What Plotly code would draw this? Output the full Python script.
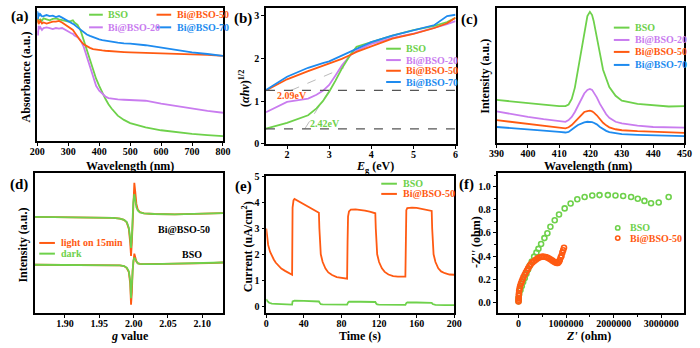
import plotly.graph_objects as go

# ---------------- data ----------------
# (a) UV-vis absorbance (arbitrary units)
a_wl = [200, 202, 204, 207, 210, 215, 220, 230, 240, 250, 260, 270, 280, 290, 300, 310, 315, 320, 330, 340,
        350, 360, 370, 380, 390, 400, 410, 420, 430, 440, 460, 480, 500, 550, 600, 650, 700, 750, 800]
a_bso = [380, 365, 372, 375, 375, 370, 378, 375, 372, 376, 378, 375, 373, 370, 368, 370, 372, 365, 358, 340,
         310, 280, 250, 220, 192, 170, 148, 130, 113, 100, 78, 65, 55, 42, 33, 27, 22, 18, 15]
a_b20 = [340, 325, 355, 345, 350, 342, 348, 350, 348, 345, 348, 346, 348, 342, 338, 332, 330, 325, 320, 310,
         290, 260, 225, 195, 170, 155, 145, 137, 132, 130, 128, 127, 126, 124, 115, 107, 100, 93, 87]
a_b50 = [365, 375, 360, 368, 370, 362, 365, 362, 365, 368, 368, 370, 365, 358, 352, 345, 342, 335, 320, 308,
         298, 292, 287, 283, 281, 280, 279, 278, 277, 276, 275, 274, 273, 272, 270, 269, 267, 265, 262]
a_b70 = [400, 375, 395, 385, 390, 384, 385, 388, 385, 386, 382, 385, 380, 375, 370, 365, 363, 358, 350, 342,
         335, 328, 324, 320, 316, 313, 311, 309, 307, 305, 303, 301, 300, 295, 287, 280, 273, 268, 262]

# (b) Tauc plot
b_e = [1.5, 2.0, 2.5, 2.7, 2.85, 3.0, 3.15, 3.3, 3.5, 3.65, 4.0, 4.5, 5.0, 5.5, 5.8, 6.0]
b_bso = [0.355, 0.49, 0.67, 0.83, 1.0, 1.22, 1.48, 1.76, 2.08, 2.27, 2.38, 2.53, 2.66, 2.76, 2.85, 2.95]
b_b20 = [0.74, 0.98, 1.06, 1.15, 1.24, 1.38, 1.6, 1.83, 2.07, 2.18, 2.34, 2.48, 2.58, 2.71, 2.80, 2.87]
b_b50 = [1.25, 1.51, 1.70, 1.77, 1.82, 1.87, 1.93, 1.99, 2.08, 2.15, 2.28, 2.46, 2.57, 2.71, 2.82, 2.95]
b_b70 = [1.26, 1.57, 1.78, 1.85, 1.89, 1.93, 2.0, 2.06, 2.15, 2.22, 2.38, 2.53, 2.66, 2.78, 2.99, 3.02]
b_h_levels = [1.25, 0.35]
b_tan1_x = [2.09, 3.35]
b_tan1_y = [1.25, 1.78]
b_tan2_x = [2.42, 3.0]
b_tan2_y = [0.35, 1.25]

# (c) PL spectra (arbitrary units)
c_wl = [390, 395, 400, 405, 410, 412, 413, 414, 415, 416, 417, 418, 419, 419.8, 420.5, 421, 422, 423, 424,
        425, 426, 428, 430, 435, 440, 445, 450]
c_bso = [132, 128, 123, 118, 113, 113, 118, 135, 170, 225, 285, 345, 390, 403, 393, 375, 330, 275, 225,
         195, 172, 145, 130, 120, 115, 112, 113]
c_b20 = [97, 88, 80, 73, 67, 65, 70, 80, 95, 115, 135, 152, 163, 166, 163, 156, 140, 120, 103,
         88, 77, 65, 60, 53, 49, 47, 47]
c_b50 = [70, 64, 57, 52, 47, 45, 48, 55, 65, 78, 88, 95, 98, 99, 97, 94, 85, 73, 62,
         54, 48, 42, 39, 36, 34, 32, 31]
c_b70 = [49, 46, 42, 38, 34, 32, 34, 40, 48, 55, 60, 63, 65, 65, 64, 62, 57, 49, 42,
         37, 33, 29, 27, 25, 23, 22, 21]

# (d) EPR spectra (arbitrary units)
d_g = [1.856, 1.90, 1.95, 1.97, 1.98, 1.986, 1.990, 1.993, 1.995, 1.9962, 1.9975, 1.9985, 1.9995, 2.0010,
       2.0025, 2.004, 2.006, 2.009, 2.015, 2.03, 2.06, 2.09, 2.11, 2.13]
d_b50_light = [295, 294, 293, 292, 290, 286, 278, 258, 215, 175, 220, 290, 360, 400,
               370, 335, 318, 310, 306, 304, 303, 304, 305, 307]
d_b50_dark = [295, 294, 293, 292, 290, 286, 279, 262, 230, 200, 235, 290, 340, 365,
              345, 325, 315, 309, 306, 304, 303, 304, 305, 307]
d_bso_light = [148, 148, 147, 147, 146, 144, 138, 125, 90, 25, 65, 130, 165, 182,
               170, 158, 153, 151, 150, 150, 151, 152, 153, 155]
d_bso_dark = [148, 148, 147, 147, 146, 144, 139, 128, 100, 45, 80, 130, 160, 170,
              163, 156, 152, 151, 150, 150, 151, 152, 153, 155]

# (e) transient photocurrent
e_t50 = [0, 1, 2, 4, 6, 8, 10, 13, 16, 20, 24, 27.5, 28, 29, 30, 35, 40, 45, 50, 56, 56.5, 57, 58, 60, 63, 66,
         70, 75, 80, 86, 86.5, 87, 88, 90, 95, 100, 105, 110, 116, 116.5, 117, 118, 120, 123, 126, 130, 135,
         140, 148, 148.5, 149, 150, 155, 160, 165, 170, 176, 176.5, 177, 178, 180, 183, 186, 190, 195, 200]
e_i50 = [2.99, 2.6, 2.36, 2.1, 1.93, 1.8, 1.68, 1.55, 1.45, 1.36, 1.28, 1.21, 3.8, 4.08, 4.13, 4.03, 3.93,
         3.83, 3.74, 3.6, 3.0, 2.4, 2.0, 1.7, 1.45, 1.3, 1.2, 1.12, 1.08, 1.06, 2.5, 3.45, 3.65, 3.72, 3.73,
         3.71, 3.68, 3.64, 3.58, 3.0, 2.4, 2.0, 1.7, 1.46, 1.32, 1.22, 1.16, 1.14, 1.14, 2.8, 3.7, 3.78, 3.8,
         3.79, 3.76, 3.73, 3.67, 3.0, 2.4, 2.0, 1.7, 1.46, 1.34, 1.27, 1.22, 1.21]
e_tbso = [0, 1, 3, 6, 10, 20, 27.5, 28, 30, 40, 50, 56, 57, 58, 60, 70, 80, 86, 87, 88, 100, 110, 116, 117,
          118, 120, 130, 140, 148, 149, 150, 160, 170, 176, 177, 178, 180, 190, 200]
e_ibso = [0.27, 0.2, 0.13, 0.1, 0.09, 0.07, 0.06, 0.18, 0.21, 0.2, 0.19, 0.18, 0.12, 0.08, 0.07, 0.06, 0.06,
          0.06, 0.14, 0.17, 0.17, 0.17, 0.16, 0.1, 0.07, 0.06, 0.05, 0.05, 0.05, 0.12, 0.14, 0.14, 0.14, 0.13,
          0.08, 0.06, 0.05, 0.04, 0.04]

# (f) Nyquist plots
f_bso_re = [0, 0, 14e3, 42e3, 70e3, 98e3, 133e3, 167e3, 202e3, 237e3, 279e3, 328e3, 377e3, 419e3, 475e3,
            544e3, 607e3, 670e3, 761e3, 851e3, 970e3, 1095e3, 1235e3, 1389e3, 1549e3, 1702e3, 1877e3,
            2037e3, 2198e3, 2365e3, 2505e3, 2645e3, 2784e3, 2945e3, 3154e3]
f_bso_im = [0.008, 0.036, 0.070, 0.107, 0.140, 0.176, 0.210, 0.246, 0.283, 0.317, 0.353, 0.395, 0.429,
            0.462, 0.504, 0.555, 0.597, 0.653, 0.709, 0.759, 0.812, 0.854, 0.891, 0.910, 0.924, 0.927, 0.927,
            0.924, 0.919, 0.910, 0.896, 0.877, 0.857, 0.863, 0.910]
f_b50_re = [0, 2e3, 4e3, 6e3, 10e3, 14e3, 24e3, 35e3, 52e3, 70e3, 87e3, 105e3, 130e3, 154e3, 178e3, 202e3,
            230e3, 258e3, 293e3, 328e3, 363e3, 398e3, 433e3, 468e3, 502e3, 537e3, 572e3, 607e3, 642e3,
            677e3, 712e3, 747e3, 775e3, 803e3, 827e3, 851e3, 868e3, 886e3, 903e3, 921e3, 938e3, 956e3]
f_b50_im = [0.006, 0.021, 0.036, 0.057, 0.078, 0.099, 0.120, 0.141, 0.162, 0.181, 0.199, 0.218, 0.238,
            0.257, 0.275, 0.293, 0.311, 0.328, 0.345, 0.356, 0.367, 0.378, 0.387, 0.392, 0.395, 0.394,
            0.392, 0.387, 0.379, 0.370, 0.360, 0.350, 0.345, 0.339, 0.339, 0.350, 0.365, 0.387, 0.401,
            0.429, 0.450, 0.471]

# ---------------- style ----------------
W, H = 700, 348
GREEN = "#6ED14B"
PURPLE = "#C97CEF"
ORANGE = "#FF5A12"
BLUE = "#1E8BEF"
GRAY = "#555555"
FONT = "Liberation Serif"
LW = 1.8


def px_x(X):
    return X / W


def px_y(Y):
    return 1 - Y / H


fig = go.Figure()

panels = {
    1: dict(xd=(30, 220), yd=(3, 140), xr=[200, 800], yr=[0, 410], xdt=100, ydt=None),
    2: dict(xd=(264, 458), yd=(3, 143), xr=[1.5, 6.0], yr=[0, 3.18], xdt=1, ydt=1),
    3: dict(xd=(500, 692.3), yd=(3, 142), xr=[390, 450], yr=[0, 415], xdt=10, ydt=None),
    4: dict(xd=(27.3, 220), yd=(173, 317), xr=[1.856, 2.130], yr=[0, 430], xdt=0.05, ydt=None),
    5: dict(xd=(264.3, 456.7), yd=(176, 317), xr=[0, 200], yr=[-0.26, 5.02], xdt=40, ydt=1),
    6: dict(xd=(501, 692), yd=(173, 317), xr=[-440000, 3480000], yr=[-0.092, 1.118], xdt=1000000, ydt=0.2),
}

tickfont = dict(family=FONT, size=10, color="black", weight="bold")
layout = {}
for i, p in panels.items():
    sx = "" if i == 1 else str(i)
    xa = dict(domain=[px_x(p["xd"][0]), px_x(p["xd"][1])], range=p["xr"], anchor="y" + sx,
              showline=True, linecolor="black", linewidth=1.5, mirror=True, showgrid=False, zeroline=False,
              ticks="outside", ticklen=3, tickwidth=1, tickcolor="black", dtick=p["xdt"], tick0=0,
              tickfont=tickfont, ticklabelstandoff=-3)
    ya = dict(domain=[px_y(p["yd"][1]), px_y(p["yd"][0])], range=p["yr"], anchor="x" + sx,
              showline=True, linecolor="black", linewidth=1.5, mirror=True, showgrid=False, zeroline=False,
              tickfont=tickfont)
    if p["ydt"] is None:
        ya.update(showticklabels=False, ticks="")
    else:
        ya.update(ticks="outside", ticklen=3, tickwidth=1, tickcolor="black", dtick=p["ydt"], tick0=0)
    layout["xaxis" + sx] = xa
    layout["yaxis" + sx] = ya

layout["xaxis4"].update(tick0=1.90, tickformat=".2f")
layout["xaxis6"].update(tickformat="d", minor=dict(dtick=500000, ticks="outside", ticklen=2, tickcolor="black"))
layout["yaxis6"].update(tickformat=".1f", minor=dict(dtick=0.1, ticks="outside", ticklen=2, tickcolor="black"))


def line(x, y, color, ax, width=LW, dash=None):
    sx = "" if ax == 1 else str(ax)
    fig.add_trace(go.Scatter(x=x, y=y, mode="lines", line=dict(color=color, width=width, dash=dash),
                             xaxis="x" + sx, yaxis="y" + sx, showlegend=False, hoverinfo="skip"))


# (a)
line(a_wl, a_bso, GREEN, 1)
line(a_wl, a_b20, PURPLE, 1)
line(a_wl, a_b50, ORANGE, 1)
line(a_wl, a_b70, BLUE, 1)

# (b)
line(b_tan1_x, b_tan1_y, "#BBBBBB", 2, width=1, dash="dash")
line(b_tan2_x, b_tan2_y, "#BBBBBB", 2, width=1, dash="dash")
line(b_e, b_b20, PURPLE, 2)
line(b_e, b_bso, GREEN, 2)
line(b_e, b_b50, ORANGE, 2)
line(b_e, b_b70, BLUE, 2)
for lv in b_h_levels:
    line([1.5, 6.0], [lv, lv], GRAY, 2, width=1.3, dash="dash")

# (c)
line(c_wl, c_bso, GREEN, 3)
line(c_wl, c_b20, PURPLE, 3)
line(c_wl, c_b50, ORANGE, 3)
line(c_wl, c_b70, BLUE, 3)

# (d)
line(d_g, d_b50_light, ORANGE, 4)
line(d_g, d_b50_dark, GREEN, 4)
line(d_g, d_bso_light, ORANGE, 4)
line(d_g, d_bso_dark, GREEN, 4)

# (e)
line(e_tbso, e_ibso, GREEN, 5)
line(e_t50, e_i50, ORANGE, 5)

# (f)
for xs, ys, col in [(f_bso_re, f_bso_im, GREEN), (f_b50_re, f_b50_im, ORANGE)]:
    fig.add_trace(go.Scatter(x=xs, y=ys, mode="markers", xaxis="x6", yaxis="y6", showlegend=False,
                             marker=dict(symbol="circle-open", size=5, color=col, line=dict(width=1.6, color=col)),
                             hoverinfo="skip"))

# ---------------- text & legends ----------------
annotations = []
shapes = []


def ann(text, X, Y, size=10, color="black", angle=0, xanchor="center"):
    annotations.append(dict(text=text, x=px_x(X), y=px_y(Y), xref="paper", yref="paper", showarrow=False,
                            xanchor=xanchor, yanchor="middle", textangle=angle,
                            font=dict(family=FONT, size=size, color=color, weight="bold")))


def leg_line(x0, x1, Y, color, label, tx):
    shapes.append(dict(type="line", xref="paper", yref="paper", x0=px_x(x0), x1=px_x(x1), y0=px_y(Y), y1=px_y(Y),
                       line=dict(color=color, width=2)))
    ann(label, tx, Y, 10, color, xanchor="left")


def leg_dot(X, Y, color, label, tx):
    shapes.append(dict(type="circle", xref="paper", yref="paper", x0=px_x(X - 2.2), x1=px_x(X + 2.2),
                       y0=px_y(Y + 2.2), y1=px_y(Y - 2.2), line=dict(color=color, width=1.6)))
    ann(label, tx, Y, 10, color, xanchor="left")


# panel labels
for lab, X, Y in [("(a)", 12, 12), ("(b)", 241, 14), ("(c)", 472, 15), ("(d)", 11, 185), ("(e)", 241, 187),
                  ("(f)", 469, 185)]:
    ann(lab, X, Y, 15)

# axis titles
ann("Absorbance (a.u.)", 18, 74, 12, angle=-90)
ann("Wavelength (nm)", 125, 165.5, 12)
ann("(<i>αhν</i>)<sup>1/2</sup>", 242, 86, 12, angle=-90)
ann("<i>E</i><sub>g</sub> (eV)", 376, 167, 12)
ann("Intensity (a.u.)", 488, 73, 12, angle=-90)
ann("Wavelength (nm)", 594, 165.5, 12)
ann("Intensity (a.u.)", 15, 247, 12, angle=-90)
ann("<i>g</i> value", 125, 341, 12)
ann("Current (uA/cm<sup>2</sup>)", 245, 249, 12, angle=-90)
ann("Time (s)", 360, 341, 12)
ann("-<i>Z''</i> (ohm)", 479, 244, 12, angle=-90)
ann("<i>Z'</i> (ohm)", 594, 341, 12)

# in-plot labels
ann("2.09eV", 291, 93, 10, ORANGE)
ann("2.42eV", 324, 122, 10, GREEN)
ann("Bi@BSO-50", 180, 231, 10)
ann("BSO", 188, 257, 10)

# legends
leg_line(83, 97, 10, GREEN, "BSO", 100)
leg_line(83, 97, 23, PURPLE, "Bi@BSO-20", 100)
leg_line(152, 167, 10, ORANGE, "Bi@BSO-50", 171)
leg_line(152, 167, 23, BLUE, "Bi@BSO-70", 171)

for k, (lab, col) in enumerate([("BSO", GREEN), ("Bi@BSO-20", PURPLE), ("Bi@BSO-50", ORANGE), ("Bi@BSO-70", BLUE)]):
    leg_line(387, 402, [45, 56.7, 67.7, 79.3][k], col, lab, 405)
    leg_line(620, 636, [23.3, 36, 48.3, 61.7][k], col, lab, 640)

leg_line(32, 48, 245, ORANGE, "light on 15min", 52)
leg_line(32, 48, 256, GREEN, "dark", 52)
leg_line(382, 398, 184, GREEN, "BSO", 402)
leg_line(382, 398, 194.5, ORANGE, "Bi@BSO-50", 402)
leg_dot(624, 229.5, GREEN, "BSO", 634)
leg_dot(624, 240, ORANGE, "Bi@BSO-50", 634)

fig.update_layout(width=W, height=H, margin=dict(l=0, r=0, t=0, b=0), paper_bgcolor="white",
                  plot_bgcolor="white", showlegend=False, annotations=annotations, shapes=shapes,
                  font=dict(family=FONT, color="black"), **layout)

fig.write_html("out.html", config={"displayModeBar": False},
               post_script="document.body.style.margin='0';document.body.style.overflow='hidden';")
